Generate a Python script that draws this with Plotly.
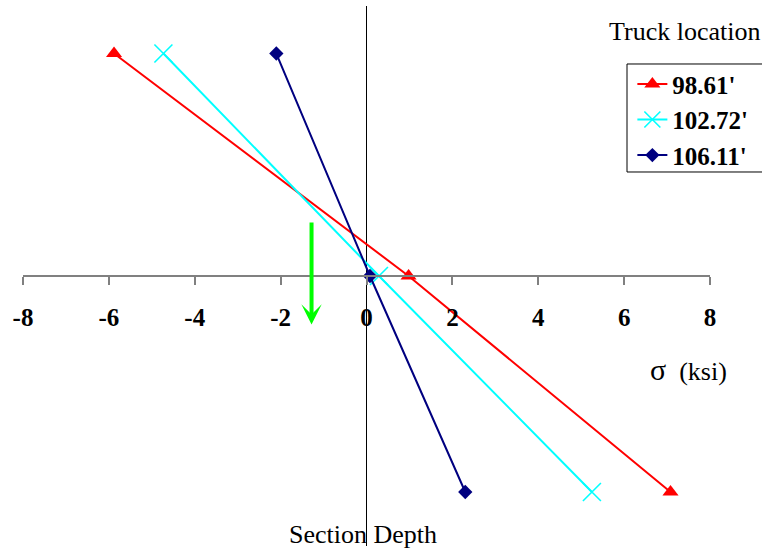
import plotly.graph_objects as go

# ---- data ----
series_names = ["98.61'", "102.72'", "106.11'"]
depth = [20.6, 0.0, -20.0]                     # section depth (relative units)
stress_98 = [-5.88, 0.98, 7.08]                # sigma (ksi)
stress_102 = [-4.73, 0.29, 5.25]
stress_106 = [-2.10, 0.08, 2.30]
x_ticks = [-8, -6, -4, -2, 0, 2, 4, 6, 8]

# green arrow (data coords)
arrow_x = -1.28
arrow_tail_y = 5.1
arrow_head_y = -4.5

FONT = "Liberation Serif, Times New Roman, serif"

fig = go.Figure()
styles = [
    dict(color="#FF0000", symbol="triangle-up", size=14, lw=0),
    dict(color="#00FFFF", symbol="x-thin-open", size=18, lw=1.6),
    dict(color="#000080", symbol="diamond", size=11, lw=0),
]
for name, xs, st in zip(series_names, [stress_98, stress_102, stress_106], styles):
    fig.add_trace(go.Scatter(
        x=xs, y=depth, name=name, mode="lines+markers",
        line=dict(color=st["color"], width=2),
        marker=dict(symbol=st["symbol"], size=st["size"], color=st["color"],
                    line=dict(color=st["color"], width=st["lw"])),
    ))

fig.add_annotation(
    x=arrow_x, y=arrow_head_y, ax=arrow_x, ay=arrow_tail_y,
    xref="x", yref="y", axref="x", ayref="y", text="",
    showarrow=True, arrowhead=3, arrowsize=0.85, arrowwidth=4, arrowcolor="#00FF00",
)

fig.add_annotation(text="Truck location", x=0.9636, y=0.9519, xref="paper", yref="paper",
                   xanchor="center", yanchor="middle", showarrow=False,
                   font=dict(family=FONT, size=26, color="black"))
fig.add_annotation(text="<span style='font-size:30px'>σ</span>\u2002(ksi)",
                   x=0.969, y=0.3265, xref="paper", yref="paper",
                   xanchor="center", yanchor="middle", showarrow=False,
                   font=dict(family=FONT, size=26, color="black"))
fig.add_annotation(text="Section Depth", x=0.4949, y=0.022, xref="paper", yref="paper",
                   xanchor="center", yanchor="middle", showarrow=False,
                   font=dict(family=FONT, size=26, color="black"))

# legend frame (extends past the right edge like the reference)
fig.add_shape(type="rect", xref="paper", yref="paper",
              x0=0.8792, x1=1.095, y0=0.6926, y1=0.8926,
              line=dict(color="black", width=1), fillcolor="white", layer="above")

fig.update_layout(
    width=762, height=552,
    margin=dict(l=23, r=52, t=6, b=6, autoexpand=False),
    paper_bgcolor="white", plot_bgcolor="white",
    showlegend=True,
    legend=dict(x=0.887, y=0.8976, xanchor="left", yanchor="top",
                borderwidth=0, bgcolor="rgba(0,0,0,0)",
                font=dict(family=FONT, size=25, color="black", weight="bold"),
                tracegroupgap=0),
    xaxis=dict(range=[-8, 8], tickvals=x_ticks, ticktext=[str(v) for v in x_ticks],
               anchor="free", position=0.5,
               showline=True, linecolor="#808080", linewidth=1.5,
               ticks="outside", ticklen=8, tickcolor="#808080", tickwidth=1.5,
               ticklabelstandoff=11,
               tickfont=dict(family=FONT, size=25, color="black", weight="bold"),
               showgrid=False, zeroline=True, zerolinecolor="black", zerolinewidth=1),
    yaxis=dict(range=[-25, 25], visible=True, showticklabels=False, ticks="",
               showgrid=False, zeroline=False, showline=False),
)

fig.write_html("out.html", config={"displayModeBar": False},
               post_script="document.body.style.margin='0';document.body.style.overflow='hidden';")
